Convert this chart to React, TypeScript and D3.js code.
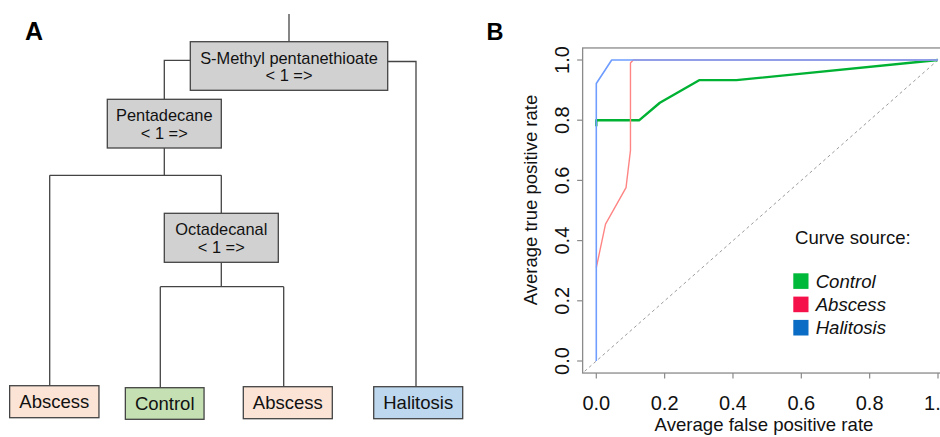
import React from "react";
import * as d3 from "d3";

// ---------- Data: panel B (ROC curves) ----------
const fprTicks = [0, 0.2, 0.4, 0.6, 0.8, 1.0];
const tprTicks = [0, 0.2, 0.4, 0.6, 0.8, 1.0];
const tickLabels = ["0.0", "0.2", "0.4", "0.6", "0.8", "1.0"];

const seriesNames = ["Control", "Abscess", "Halitosis"];
const controlFPR = [0, 0, 0.126, 0.186, 0.301, 0.41, 1];
const controlTPR = [0.78, 0.8, 0.8, 0.858, 0.933, 0.933, 1];
const abscessFPR = [0, 0.027, 0.087, 0.1, 0.1, 0.108, 1];
const abscessTPR = [0.31, 0.455, 0.576, 0.7, 0.99, 1, 1];
const halitosisFPR = [0, 0, 0.045, 1];
const halitosisTPR = [0, 0.922, 1, 1];

// ---------- Data: panel A (decision tree) ----------
const treeNodeIds = ["root", "pent", "octa", "abs1", "ctrl", "abs2", "hali"];
const treeLabels = [
  ["S-Methyl pentanethioate", "< 1 =>"],
  ["Pentadecane", "< 1 =>"],
  ["Octadecanal", "< 1 =>"],
  ["Abscess"],
  ["Control"],
  ["Abscess"],
  ["Halitosis"],
];
const treeClasses = ["split", "split", "split", "Abscess", "Control", "Abscess", "Halitosis"];
const treeParents = [null, "root", "pent", "pent", "octa", "octa", "root"];

// ---------- Layout / styles (kept separate from data) ----------
const FONT = "'Liberation Sans', Arial, Helvetica, sans-serif";
const layout: Record<string, { cx: number; top: number; w: number; h: number; anchor: number }> = {
  root: { cx: 289, top: 41.7, w: 197.4, h: 48.6, anchor: 289 },
  pent: { cx: 164.3, top: 99.3, w: 114, h: 48.7, anchor: 164.3 },
  octa: { cx: 221.3, top: 213.3, w: 114, h: 49, anchor: 221.3 },
  abs1: { cx: 54.3, top: 385.7, w: 89.3, h: 32, anchor: 49.7 },
  ctrl: { cx: 164.7, top: 387.7, w: 78.7, h: 31.6, anchor: 160.3 },
  abs2: { cx: 287.8, top: 386.7, w: 89, h: 32, anchor: 283.7 },
  hali: { cx: 418.2, top: 386.7, w: 89, h: 32, anchor: 416 },
};
const fillFor: Record<string, string> = {
  split: "#d2d1d2",
  Abscess: "#fbe4d6",
  Control: "#c5e0b3",
  Halitosis: "#bdd7ee",
};
const lineColors: Record<string, string> = {
  Control: "#00b233",
  Abscess: "#ff8585",
  Halitosis: "#6f9dff",
};
const legendColors: Record<string, string> = {
  Control: "#00b839",
  Abscess: "#f5124a",
  Halitosis: "#0a6cc4",
};
const lineWidths: Record<string, number> = { Control: 2.4, Abscess: 1.4, Halitosis: 1.6 };

function Tree() {
  const stroke = "#444";
  const els: React.ReactNode[] = [];
  // top stem
  els.push(<line key="stem" x1={layout.root.cx} x2={layout.root.cx} y1={14} y2={layout.root.top} stroke={stroke} strokeWidth={1.3} />);
  // root connectors: side branches
  const root = layout.root;
  const pent = layout.pent;
  const hali = layout.hali;
  els.push(
    <path key="rootL" d={`M${root.cx - root.w / 2},60.3 H${pent.anchor} V${pent.top}`} fill="none" stroke={stroke} strokeWidth={1.3} />
  );
  els.push(
    <path key="rootR" d={`M${root.cx + root.w / 2},61.5 H${hali.anchor} V${hali.top}`} fill="none" stroke={stroke} strokeWidth={1.3} />
  );
  // pentadecane & octadecanal: bottom stems to bar
  const barY: Record<string, number> = { pent: 175.3, octa: 286.7 };
  ["pent", "octa"].forEach((pid) => {
    const p = layout[pid];
    const kids = treeNodeIds.filter((id, i) => treeParents[i] === pid);
    const xs = kids.map((k) => layout[k].anchor);
    els.push(<line key={pid + "s"} x1={p.cx} x2={p.cx} y1={p.top + p.h} y2={barY[pid]} stroke={stroke} strokeWidth={1.3} />);
    els.push(<line key={pid + "b"} x1={d3.min(xs)} x2={d3.max(xs)} y1={barY[pid]} y2={barY[pid]} stroke={stroke} strokeWidth={1.3} />);
    kids.forEach((k) => {
      els.push(<line key={pid + k} x1={layout[k].anchor} x2={layout[k].anchor} y1={barY[pid]} y2={layout[k].top} stroke={stroke} strokeWidth={1.3} />);
    });
  });
  // boxes
  treeNodeIds.forEach((id, i) => {
    const n = layout[id];
    const cls = treeClasses[i];
    const lines = treeLabels[i];
    const isLeaf = cls !== "split";
    els.push(
      <g key={"n" + id}>
        <rect x={n.cx - n.w / 2} y={n.top} width={n.w} height={n.h} fill={fillFor[cls]} stroke={stroke} strokeWidth={1.3} />
        {isLeaf ? (
          <text x={n.cx} y={n.top + n.h / 2 + 6.6} textAnchor="middle" fontSize={18.5} fill="#111">{lines[0]}</text>
        ) : (
          lines.map((t, j) => (
            <text key={j} x={n.cx} y={n.top + 21.8 + j * 17.8} textAnchor="middle" fontSize={16.4} fill="#111">{t}</text>
          ))
        )}
      </g>
    );
  });
  return <g fontFamily={FONT}>{els}</g>;
}

function Roc() {
  const x = d3.scaleLinear().domain([0, 1]).range([596.3, 938]);
  const y = d3.scaleLinear().domain([0, 1]).range([361, 60]);
  const x0 = x(-0.04), x1 = x(1.04), y0 = y(-0.04), y1 = y(1.04);
  const line = d3.line<[number, number]>().x((d) => x(d[0])).y((d) => y(d[1]));
  const series: Record<string, [number[], number[]]> = {
    Control: [controlFPR, controlTPR],
    Abscess: [abscessFPR, abscessTPR],
    Halitosis: [halitosisFPR, halitosisTPR],
  };
  const axisCol = "#8a8a8a";
  return (
    <g fontFamily={FONT}>
      <defs>
        <clipPath id="plotclip">
          <rect x={x0} y={y1} width={x1 - x0} height={y0 - y1} />
        </clipPath>
      </defs>
      {/* diagonal reference */}
      <g clipPath="url(#plotclip)">
        <line x1={x(-0.1)} y1={y(-0.1)} x2={x(1.1)} y2={y(1.1)} stroke="#9a9a9a" strokeWidth={1} strokeDasharray="3,3" />
        {seriesNames.map((s) => (
          <path key={s} d={line(series[s][0].map((v, i) => [v, series[s][1][i]] as [number, number])) || ""} fill="none" stroke={lineColors[s]} strokeWidth={lineWidths[s]} strokeLinejoin="round" />
        ))}
      </g>
      {/* box */}
      <rect x={x0} y={y1} width={x1 - x0} height={y0 - y1} fill="none" stroke={axisCol} strokeWidth={1.3} />
      {/* x axis */}
      {fprTicks.map((t, i) => (
        <g key={"xt" + i}>
          <line x1={x(t)} x2={x(t)} y1={y0} y2={y0 + 5.5} stroke={axisCol} strokeWidth={1.2} />
          <text x={x(t)} y={409.5} textAnchor="middle" fontSize={20} fill="#111">{tickLabels[i]}</text>
        </g>
      ))}
      {/* y axis */}
      {tprTicks.map((t, i) => (
        <g key={"yt" + i}>
          <line x1={x0 - 5.5} x2={x0} y1={y(t)} y2={y(t)} stroke={axisCol} strokeWidth={1.2} />
          <text transform={`translate(569.3,${y(t)}) rotate(-90)`} textAnchor="middle" fontSize={20} fill="#111">{tickLabels[i]}</text>
        </g>
      ))}
      <text x={764} y={431} textAnchor="middle" fontSize={18.6} fill="#111">Average false positive rate</text>
      <text transform={`translate(536.5,200) rotate(-90)`} textAnchor="middle" fontSize={18.5} fill="#111">Average true positive rate</text>
      {/* legend */}
      <text x={795} y={244} fontSize={18.6} fill="#111">Curve source:</text>
      {seriesNames.map((s, i) => (
        <g key={"lg" + s}>
          <rect x={793.3} y={273.3 + i * 23.3} width={15.2} height={15.6} fill={legendColors[s]} />
          <text x={815.7} y={288.4 + i * 22.6} fontSize={18.6} fontStyle="italic" fill="#111">{s}</text>
        </g>
      ))}
    </g>
  );
}

export default function App() {
  return (
    <svg width={940} height={437} viewBox="0 0 940 437" style={{ position: "absolute", left: 0, top: 0, display: "block", background: "#fff" }}>
      <rect x={0} y={0} width={940} height={437} fill="#fff" />
      <text x={25} y={40} fontFamily={FONT} fontWeight="bold" fontSize={25} fill="#000">A</text>
      <text x={486.5} y={40} fontFamily={FONT} fontWeight="bold" fontSize={23.5} fill="#000">B</text>
      <Tree />
      <Roc />
    </svg>
  );
}
